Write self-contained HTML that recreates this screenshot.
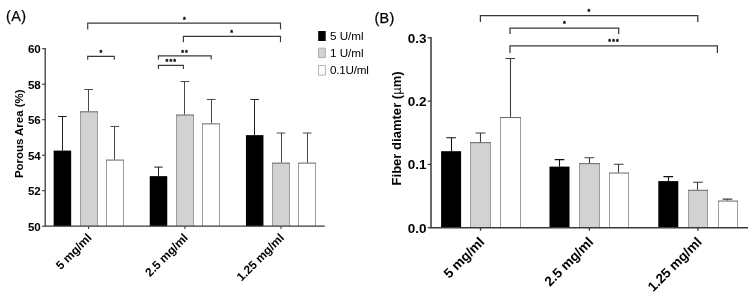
<!DOCTYPE html>
<html><head><meta charset="utf-8"><title>Figure</title>
<style>html,body{margin:0;padding:0;background:#fff}svg{display:block}</style></head>
<body>
<svg width="756" height="299" viewBox="0 0 756 299" font-family="'Liberation Sans', sans-serif" fill="#000">
<rect width="756" height="299" fill="#fff"/>
<path d="M62.50 150.59V116.50M58.10 116.50H66.70" stroke="#111" stroke-width="0.94" fill="none"/>
<rect x="53.65" y="150.59" width="17.50" height="75.61" fill="#000"/>
<path d="M88.50 111.36V89.52M84.30 89.52H92.90" stroke="#3c3c3c" stroke-width="0.94" fill="none"/>
<rect x="80.50" y="111.81" width="17.00" height="114.39" fill="#d2d2d2"/>
<path d="M80.50 226.20V111.81M97.50 111.81V226.20" stroke="#9c9c9c" stroke-width="1" fill="none"/>
<path d="M80.00 111.81H98.00" stroke="#5e5e5e" stroke-width="0.95" fill="none"/>
<path d="M114.50 159.64V126.45M110.50 126.45H119.10" stroke="#3c3c3c" stroke-width="0.94" fill="none"/>
<rect x="106.50" y="160.09" width="17.00" height="66.11" fill="#fff"/>
<path d="M106.50 226.20V160.09M123.50 160.09V226.20" stroke="#9c9c9c" stroke-width="1" fill="none"/>
<path d="M106.00 160.09H124.00" stroke="#5e5e5e" stroke-width="0.95" fill="none"/>
<path d="M158.50 176.14V167.09M154.20 167.09H162.80" stroke="#111" stroke-width="0.94" fill="none"/>
<rect x="149.75" y="176.14" width="17.50" height="50.06" fill="#000"/>
<path d="M184.50 114.55V81.54M180.60 81.54H189.20" stroke="#3c3c3c" stroke-width="0.94" fill="none"/>
<rect x="176.50" y="115.00" width="17.00" height="111.20" fill="#d2d2d2"/>
<path d="M176.50 226.20V115.00M193.50 115.00V226.20" stroke="#9c9c9c" stroke-width="1" fill="none"/>
<path d="M176.00 115.00H194.00" stroke="#5e5e5e" stroke-width="0.95" fill="none"/>
<path d="M211.50 123.43V99.46M206.90 99.46H215.50" stroke="#3c3c3c" stroke-width="0.94" fill="none"/>
<rect x="202.50" y="123.88" width="17.00" height="102.32" fill="#fff"/>
<path d="M202.50 226.20V123.88M219.50 123.88V226.20" stroke="#9c9c9c" stroke-width="1" fill="none"/>
<path d="M202.00 123.88H220.00" stroke="#5e5e5e" stroke-width="0.95" fill="none"/>
<path d="M254.50 135.14V99.46M250.40 99.46H259.00" stroke="#111" stroke-width="0.94" fill="none"/>
<rect x="245.95" y="135.14" width="17.50" height="91.06" fill="#000"/>
<path d="M281.50 162.66V133.01M276.70 133.01H285.30" stroke="#3c3c3c" stroke-width="0.94" fill="none"/>
<rect x="272.50" y="163.11" width="17.00" height="63.09" fill="#d2d2d2"/>
<path d="M272.50 226.20V163.11M289.50 163.11V226.20" stroke="#9c9c9c" stroke-width="1" fill="none"/>
<path d="M272.00 163.11H290.00" stroke="#5e5e5e" stroke-width="0.95" fill="none"/>
<path d="M307.50 162.66V133.01M302.90 133.01H311.50" stroke="#3c3c3c" stroke-width="0.94" fill="none"/>
<rect x="298.50" y="163.11" width="17.00" height="63.09" fill="#fff"/>
<path d="M298.50 226.20V163.11M315.50 163.11V226.20" stroke="#9c9c9c" stroke-width="1" fill="none"/>
<path d="M298.00 163.11H316.00" stroke="#5e5e5e" stroke-width="0.95" fill="none"/>
<path d="M45.20 48.05V226.85M44.55 226.20H324.80" stroke="#3a3a3a" stroke-width="1.3" fill="none"/>
<path d="M42.00 226.20H45.20" stroke="#3a3a3a" stroke-width="1.10"/>
<text x="40.80" y="230.93" font-size="11.6" font-weight="bold" text-anchor="end">50</text>
<path d="M42.00 190.70H45.20" stroke="#3a3a3a" stroke-width="1.10"/>
<text x="40.80" y="195.43" font-size="11.6" font-weight="bold" text-anchor="end">52</text>
<path d="M42.00 155.20H45.20" stroke="#3a3a3a" stroke-width="1.10"/>
<text x="40.80" y="159.93" font-size="11.6" font-weight="bold" text-anchor="end">54</text>
<path d="M42.00 119.70H45.20" stroke="#3a3a3a" stroke-width="1.10"/>
<text x="40.80" y="124.43" font-size="11.6" font-weight="bold" text-anchor="end">56</text>
<path d="M42.00 84.20H45.20" stroke="#3a3a3a" stroke-width="1.10"/>
<text x="40.80" y="88.93" font-size="11.6" font-weight="bold" text-anchor="end">58</text>
<path d="M42.00 48.70H45.20" stroke="#3a3a3a" stroke-width="1.10"/>
<text x="40.80" y="53.43" font-size="11.6" font-weight="bold" text-anchor="end">60</text>
<path d="M88.60 226.20V229.00" stroke="#3a3a3a" stroke-width="1.10"/>
<text transform="translate(92.40 238.50) rotate(-45)" font-size="11.85" font-weight="bold" text-anchor="end">5 mg/ml</text>
<path d="M184.90 226.20V229.00" stroke="#3a3a3a" stroke-width="1.10"/>
<text transform="translate(188.70 238.50) rotate(-45)" font-size="11.85" font-weight="bold" text-anchor="end">2.5 mg/ml</text>
<path d="M281.00 226.20V229.00" stroke="#3a3a3a" stroke-width="1.10"/>
<text transform="translate(284.80 238.50) rotate(-45)" font-size="11.85" font-weight="bold" text-anchor="end">1.25 mg/ml</text>
<text transform="translate(23.2 133.8) rotate(-90)" font-size="11.45" font-weight="bold" text-anchor="middle">Porous Area (%)</text>
<text x="6.1" y="20.9" font-size="14.4" letter-spacing="0.35" stroke="#000" stroke-width="0.25">(A)</text>
<path d="M87.70 29.60V23.10H280.50V29.60" stroke="#3a3a3a" stroke-width="1.15" fill="none"/>
<text x="185.00" y="21.95" font-size="7.0" font-weight="bold" text-anchor="middle" letter-spacing="1.18" stroke="#000" stroke-width="0.3" stroke-linejoin="round">*</text>
<path d="M183.40 42.20V36.30H280.50V42.20" stroke="#3a3a3a" stroke-width="1.15" fill="none"/>
<text x="232.30" y="34.95" font-size="7.0" font-weight="bold" text-anchor="middle" letter-spacing="1.18" stroke="#000" stroke-width="0.3" stroke-linejoin="round">*</text>
<path d="M87.70 59.80V56.30H114.30V59.80" stroke="#3a3a3a" stroke-width="1.15" fill="none"/>
<text x="101.50" y="55.15" font-size="7.0" font-weight="bold" text-anchor="middle" letter-spacing="1.18" stroke="#000" stroke-width="0.3" stroke-linejoin="round">*</text>
<path d="M158.40 59.50V55.90H211.20V59.50" stroke="#3a3a3a" stroke-width="1.15" fill="none"/>
<text x="185.10" y="54.95" font-size="7.0" font-weight="bold" text-anchor="middle" letter-spacing="1.18" stroke="#000" stroke-width="0.3" stroke-linejoin="round">**</text>
<path d="M158.40 69.00V65.30H183.40V69.00" stroke="#3a3a3a" stroke-width="1.15" fill="none"/>
<text x="171.40" y="64.25" font-size="7.0" font-weight="bold" text-anchor="middle" letter-spacing="1.18" stroke="#000" stroke-width="0.3" stroke-linejoin="round">***</text>
<rect x="318.2" y="31.00" width="7.5" height="10.00" fill="#000"/>
<text x="329.9" y="40.20" font-size="11.7">5 U/ml</text>
<rect x="318.6" y="48.10" width="6.7" height="9.60" fill="#d2d2d2" stroke="#a2a2a2" stroke-width="0.8"/>
<text x="329.9" y="57.30" font-size="11.7">1 U/ml</text>
<rect x="318.6" y="65.50" width="6.7" height="9.60" fill="#fff" stroke="#a2a2a2" stroke-width="0.8"/>
<text x="329.9" y="74.40" font-size="11.7" letter-spacing="-0.2">0.1U/ml</text>
<path d="M451.50 151.20V137.80M446.25 137.80H455.95" stroke="#111" stroke-width="1.08" fill="none"/>
<rect x="441.10" y="151.20" width="20.00" height="76.50" fill="#000"/>
<path d="M480.50 142.20V133.00M475.65 133.00H485.35" stroke="#3c3c3c" stroke-width="1.08" fill="none"/>
<rect x="470.50" y="142.65" width="20.00" height="85.05" fill="#d2d2d2"/>
<path d="M470.50 227.70V142.65M490.50 142.65V227.70" stroke="#9c9c9c" stroke-width="1" fill="none"/>
<path d="M470.00 142.65H491.00" stroke="#5e5e5e" stroke-width="0.95" fill="none"/>
<path d="M510.50 117.10V58.50M505.35 58.50H515.05" stroke="#3c3c3c" stroke-width="1.08" fill="none"/>
<rect x="500.50" y="117.55" width="20.00" height="110.15" fill="#fff"/>
<path d="M500.50 227.70V117.55M520.50 117.55V227.70" stroke="#9c9c9c" stroke-width="1" fill="none"/>
<path d="M500.00 117.55H521.00" stroke="#5e5e5e" stroke-width="0.95" fill="none"/>
<path d="M559.50 166.60V159.60M554.65 159.60H564.35" stroke="#111" stroke-width="1.08" fill="none"/>
<rect x="549.50" y="166.60" width="20.00" height="61.10" fill="#000"/>
<path d="M589.50 163.20V157.80M584.55 157.80H594.25" stroke="#3c3c3c" stroke-width="1.08" fill="none"/>
<rect x="579.50" y="163.65" width="20.00" height="64.05" fill="#d2d2d2"/>
<path d="M579.50 227.70V163.65M599.50 163.65V227.70" stroke="#9c9c9c" stroke-width="1" fill="none"/>
<path d="M579.00 163.65H600.00" stroke="#5e5e5e" stroke-width="0.95" fill="none"/>
<path d="M618.50 172.60V164.20M613.95 164.20H623.65" stroke="#3c3c3c" stroke-width="1.08" fill="none"/>
<rect x="609.50" y="173.05" width="19.00" height="54.65" fill="#fff"/>
<path d="M609.50 227.70V173.05M628.50 173.05V227.70" stroke="#9c9c9c" stroke-width="1" fill="none"/>
<path d="M609.00 173.05H629.00" stroke="#5e5e5e" stroke-width="0.95" fill="none"/>
<path d="M668.50 181.10V176.60M663.45 176.60H673.15" stroke="#111" stroke-width="1.08" fill="none"/>
<rect x="658.30" y="181.10" width="20.00" height="46.60" fill="#000"/>
<path d="M697.50 189.80V182.30M693.05 182.30H702.75" stroke="#3c3c3c" stroke-width="1.08" fill="none"/>
<rect x="688.50" y="190.25" width="19.00" height="37.45" fill="#d2d2d2"/>
<path d="M688.50 227.70V190.25M707.50 190.25V227.70" stroke="#9c9c9c" stroke-width="1" fill="none"/>
<path d="M688.00 190.25H708.00" stroke="#5e5e5e" stroke-width="0.95" fill="none"/>
<path d="M727.50 200.60V199.10M722.65 199.10H732.35" stroke="#3c3c3c" stroke-width="1.08" fill="none"/>
<rect x="718.50" y="201.05" width="19.00" height="26.65" fill="#fff"/>
<path d="M718.50 227.70V201.05M737.50 201.05V227.70" stroke="#9c9c9c" stroke-width="1" fill="none"/>
<path d="M718.00 201.05H738.00" stroke="#5e5e5e" stroke-width="0.95" fill="none"/>
<path d="M431.00 37.05V228.45M430.25 227.70H748.00" stroke="#3a3a3a" stroke-width="1.5" fill="none"/>
<path d="M427.70 227.70H431.00" stroke="#3a3a3a" stroke-width="1.27"/>
<text x="426.50" y="232.76" font-size="13.5" font-weight="bold" text-anchor="end">0.0</text>
<path d="M427.70 164.40H431.00" stroke="#3a3a3a" stroke-width="1.27"/>
<text x="426.50" y="169.46" font-size="13.5" font-weight="bold" text-anchor="end">0.1</text>
<path d="M427.70 101.10H431.00" stroke="#3a3a3a" stroke-width="1.27"/>
<text x="426.50" y="106.16" font-size="13.5" font-weight="bold" text-anchor="end">0.2</text>
<path d="M427.70 37.80H431.00" stroke="#3a3a3a" stroke-width="1.27"/>
<text x="426.50" y="42.86" font-size="13.5" font-weight="bold" text-anchor="end">0.3</text>
<path d="M480.50 227.70V230.70" stroke="#3a3a3a" stroke-width="1.27"/>
<text transform="translate(485.20 242.90) rotate(-45)" font-size="13.5" font-weight="bold" text-anchor="end">5 mg/ml</text>
<path d="M589.40 227.70V230.70" stroke="#3a3a3a" stroke-width="1.27"/>
<text transform="translate(594.10 242.90) rotate(-45)" font-size="13.5" font-weight="bold" text-anchor="end">2.5 mg/ml</text>
<path d="M697.90 227.70V230.70" stroke="#3a3a3a" stroke-width="1.27"/>
<text transform="translate(702.60 242.90) rotate(-45)" font-size="13.5" font-weight="bold" text-anchor="end">1.25 mg/ml</text>
<text transform="translate(401.1 128.4) rotate(-90)" font-size="13.05" font-weight="bold" text-anchor="middle">Fiber diamter (<tspan font-weight="normal">µ</tspan>m)</text>
<text x="374.4" y="23.2" font-size="14.4" letter-spacing="0.35" stroke="#000" stroke-width="0.25">(B)</text>
<path d="M480.40 22.00V15.50H697.80V22.00" stroke="#3a3a3a" stroke-width="1.25" fill="none"/>
<text x="589.50" y="13.65" font-size="7.0" font-weight="bold" text-anchor="middle" letter-spacing="1.18" stroke="#000" stroke-width="0.3" stroke-linejoin="round">*</text>
<path d="M510.00 33.90V28.10H618.70V33.90" stroke="#3a3a3a" stroke-width="1.25" fill="none"/>
<text x="565.00" y="26.25" font-size="7.0" font-weight="bold" text-anchor="middle" letter-spacing="1.18" stroke="#000" stroke-width="0.3" stroke-linejoin="round">*</text>
<path d="M510.00 52.90V45.90H717.40V52.90" stroke="#3a3a3a" stroke-width="1.25" fill="none"/>
<text x="614.10" y="44.25" font-size="7.0" font-weight="bold" text-anchor="middle" letter-spacing="1.18" stroke="#000" stroke-width="0.3" stroke-linejoin="round">***</text>
</svg>
</body></html>
